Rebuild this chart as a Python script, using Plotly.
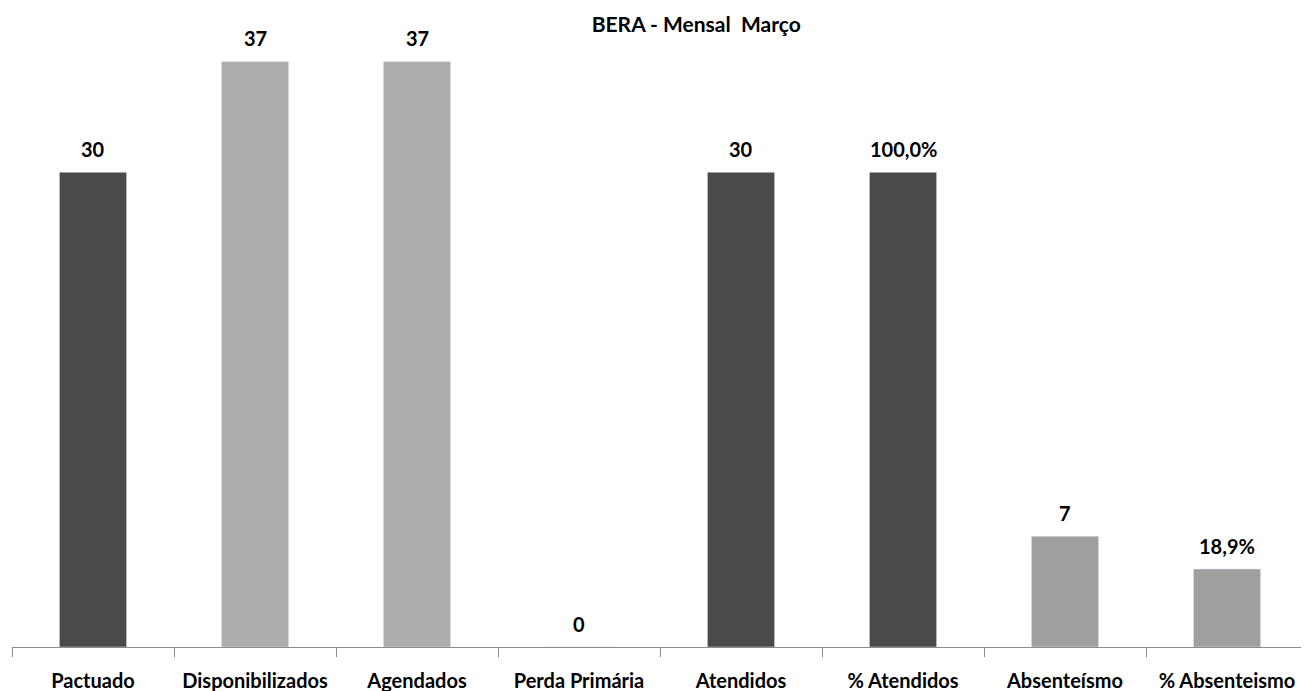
import plotly.graph_objects as go

categories = ["Pactuado", "Disponibilizados", "Agendados", "Perda Primária",
              "Atendidos", "% Atendidos", "Absenteísmo", "% Absenteismo"]
values = [30, 37, 37, 0, 30, 30, 7, 4.93]
labels = ["30", "37", "37", "0", "30", "100,0%", "7", "18,9%"]
colors = ["#4a4a4a", "#adadad", "#adadad", "#4a4a4a", "#4a4a4a", "#4a4a4a", "#9f9f9f", "#9f9f9f"]

FONT = "Lato"
W, H = 1301, 683  # page body has an 8px margin

fig = go.Figure()
fig.add_trace(go.Bar(x=categories, y=values, marker_color=colors, width=0.415,
                     hoverinfo="x+y"))

for c, v, t in zip(categories, values, labels):
    fig.add_annotation(x=c, y=v, text="<b>%s</b>" % t, showarrow=False,
                       yanchor="bottom", yshift=9,
                       font=dict(family=FONT, size=20, color="#000000"))

fig.update_layout(
    width=W, height=H,
    margin=dict(l=4, r=1, t=6, b=44, autoexpand=False),
    paper_bgcolor="white", plot_bgcolor="white",
    showlegend=False,
    title=dict(text="<b>BERA - Mensal  Março</b>", x=0.529, xanchor="center",
               y=1 - 17/H, yanchor="middle",
               font=dict(family=FONT, size=21, color="#000000")),
    xaxis=dict(showline=True, linecolor="#8c8c8c", linewidth=1,
               ticks="outside", tickson="boundaries", ticklen=9, tickcolor="#8c8c8c",
               tickfont=dict(family=FONT, size=20, color="#000000"),
               showgrid=False, ticklabelstandoff=16, automargin=False),
    yaxis=dict(range=[0, 40], visible=False, showgrid=False, zeroline=False),
    bargap=0.585,
)
fig.update_xaxes(tickvals=categories, ticktext=["<b>%s</b>" % c for c in categories])

fig.write_html("out.html")
